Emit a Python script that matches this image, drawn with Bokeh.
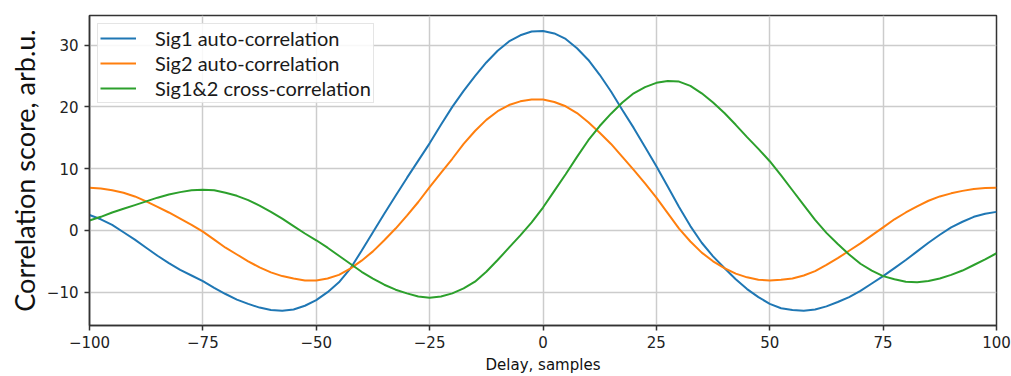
from bokeh.plotting import figure
from bokeh.models import Range1d, FixedTicker, Legend, LegendItem
from bokeh.embed import file_html
from bokeh.resources import INLINE

# ---- data (delay step 2.5 samples) ----
delay = [-100, -97.5, -95, -92.5, -90, -87.5, -85, -82.5, -80, -77.5,
         -75, -72.5, -70, -67.5, -65, -62.5, -60, -57.5, -55, -52.5,
         -50, -47.5, -45, -42.5, -40, -37.5, -35, -32.5, -30, -27.5,
         -25, -22.5, -20, -17.5, -15, -12.5, -10, -7.5, -5, -2.5,
         0, 2.5, 5, 7.5, 10, 12.5, 15, 17.5, 20, 22.5,
         25, 27.5, 30, 32.5, 35, 37.5, 40, 42.5, 45, 47.5,
         50, 52.5, 55, 57.5, 60, 62.5, 65, 67.5, 70, 72.5,
         75, 77.5, 80, 82.5, 85, 87.5, 90, 92.5, 95, 97.5, 100]

sig1_auto = [2.5, 1.8, 0.9, -0.3, -1.5, -2.8, -4.1, -5.3, -6.4, -7.3,
             -8.2, -9.3, -10.3, -11.2, -11.9, -12.5, -12.9, -13.0, -12.8, -12.2,
             -11.3, -10.0, -8.4, -6.2, -3.3, -0.3, 2.7, 5.6, 8.5, 11.3,
             14.1, 17.1, 20.0, 22.6, 25.0, 27.2, 29.1, 30.6, 31.6, 32.2,
             32.3, 31.9, 31.0, 29.5, 27.6, 25.2, 22.5, 19.5, 16.6, 13.5,
             10.4, 7.1, 3.8, 0.7, -2.0, -4.2, -6.1, -7.9, -9.5, -10.8,
             -11.9, -12.6, -12.9, -13.0, -12.8, -12.3, -11.6, -10.8, -9.8, -8.6,
             -7.4, -6.1, -4.8, -3.4, -2.0, -0.7, 0.5, 1.4, 2.2, 2.7, 3.0]

sig2_auto = [6.9, 6.8, 6.5, 6.1, 5.5, 4.7, 3.8, 2.9, 1.9, 0.9,
             -0.2, -1.5, -2.8, -3.9, -5.0, -6.0, -6.8, -7.4, -7.8, -8.1,
             -8.1, -7.8, -7.2, -6.2, -4.9, -3.4, -1.6, 0.3, 2.4, 4.6,
             7.0, 9.3, 11.6, 14.0, 16.1, 17.9, 19.3, 20.3, 20.9, 21.2,
             21.2, 20.8, 20.1, 19.0, 17.5, 15.8, 14.0, 11.9, 9.8, 7.6,
             5.3, 2.8, 0.3, -1.8, -3.6, -5.0, -6.1, -7.0, -7.6, -8.0,
             -8.1, -8.0, -7.8, -7.3, -6.6, -5.6, -4.5, -3.3, -2.1, -0.8,
             0.5, 1.8, 2.9, 3.9, 4.8, 5.5, 6.0, 6.4, 6.7, 6.85, 6.9]

sig12_cross = [1.6, 2.2, 2.9, 3.5, 4.1, 4.7, 5.3, 5.8, 6.2, 6.5,
               6.6, 6.5, 6.1, 5.6, 4.9, 4.0, 3.0, 1.9, 0.7, -0.5,
               -1.6, -2.8, -4.1, -5.4, -6.7, -7.8, -8.8, -9.6, -10.2, -10.7,
               -10.9, -10.7, -10.2, -9.4, -8.3, -6.7, -4.8, -2.8, -0.8, 1.3,
               3.7, 6.4, 9.1, 11.9, 14.6, 16.9, 18.9, 20.7, 22.2, 23.2,
               23.9, 24.2, 24.1, 23.4, 22.2, 20.7, 19.0, 17.1, 15.1, 13.2,
               11.2, 8.9, 6.5, 4.1, 1.7, -0.4, -2.2, -3.9, -5.4, -6.5,
               -7.4, -7.9, -8.3, -8.4, -8.2, -7.8, -7.2, -6.5, -5.6, -4.7, -3.7]

series_names = ["Sig1 auto-correlation", "Sig2 auto-correlation", "Sig1&2 cross-correlation"]
series_colors = ["#1f77b4", "#ff7f0e", "#2ca02c"]

x_ticks = [-100, -75, -50, -25, 0, 25, 50, 75, 100]
x_tick_labels = ["\u2212100", "\u221275", "\u221250", "\u221225", "0", "25", "50", "75", "100"]
y_ticks = [-10, 0, 10, 20, 30]
y_tick_labels = ["\u221210", "0", "10", "20", "30"]
x_title = "Delay, samples"
y_title = "Correlation score, arb.u."

# ---- figure ----
p = figure(width=1011, height=376, output_backend="svg", toolbar_location=None,
           x_range=Range1d(-100, 100), y_range=Range1d(-15.4, 34.8),
           min_border_left=89, min_border_right=15, min_border_top=15,
           min_border_bottom=46)
p.background_fill_color = "white"
p.border_fill_color = "white"

renderers = []
for ys, c in zip([sig1_auto, sig2_auto, sig12_cross], series_colors):
    r = p.line(delay, ys, line_color=c, line_width=2)
    renderers.append(r)

legend = Legend(items=[LegendItem(label=n, renderers=[r]) for n, r in zip(series_names, renderers)],
                location="top_left")
legend.margin = 8
legend.padding = 2
legend.spacing = 1
legend.glyph_width = 36
legend.glyph_height = 20
legend.label_height = 20
legend.label_standoff = 19
legend.label_text_font = "Lato"
legend.label_text_font_size = "20px"
legend.label_text_color = "#1a1a1a"
legend.border_line_color = "#cccccc"
legend.border_line_width = 1.5
legend.background_fill_alpha = 0.85
p.add_layout(legend)

# grid
p.xgrid.ticker = FixedTicker(ticks=x_ticks)
p.ygrid.ticker = FixedTicker(ticks=y_ticks)
p.grid.grid_line_color = "#cccccc"
p.grid.grid_line_width = 1.5

# axes
p.xaxis.ticker = FixedTicker(ticks=x_ticks)
p.yaxis.ticker = FixedTicker(ticks=y_ticks)
p.xaxis.major_label_overrides = {t: l for t, l in zip(x_ticks, x_tick_labels)}
p.yaxis.major_label_overrides = {t: l for t, l in zip(y_ticks, y_tick_labels)}
for ax in (p.xaxis, p.yaxis):
    ax.major_label_text_font = "DejaVu Sans"
    ax.major_label_text_font_size = "15px"
    ax.major_label_text_color = "#222222"
    ax.minor_tick_line_color = None
    ax.major_tick_in = 0
    ax.major_tick_out = 5
    ax.major_tick_line_color = "#333333"
    ax.major_tick_line_width = 1.5
    ax.axis_line_color = "#333333"
    ax.axis_line_width = 1.5
    ax.axis_label_text_font_style = "normal"
    ax.axis_label_text_color = "#111111"

p.xaxis.axis_label = x_title
p.xaxis.axis_label_text_font = "DejaVu Sans"
p.xaxis.axis_label_text_font_size = "15px"
p.xaxis.major_label_standoff = 5
p.xaxis.axis_label_standoff = 5

p.yaxis.axis_label = y_title
p.yaxis.axis_label_text_font = "Lato"
p.yaxis.axis_label_text_font_size = "27px"
p.yaxis.major_label_standoff = 6
p.yaxis.axis_label_standoff = 3

p.outline_line_color = "#333333"
p.outline_line_width = 1.5

open("out.html", "w").write(file_html(p, INLINE))
